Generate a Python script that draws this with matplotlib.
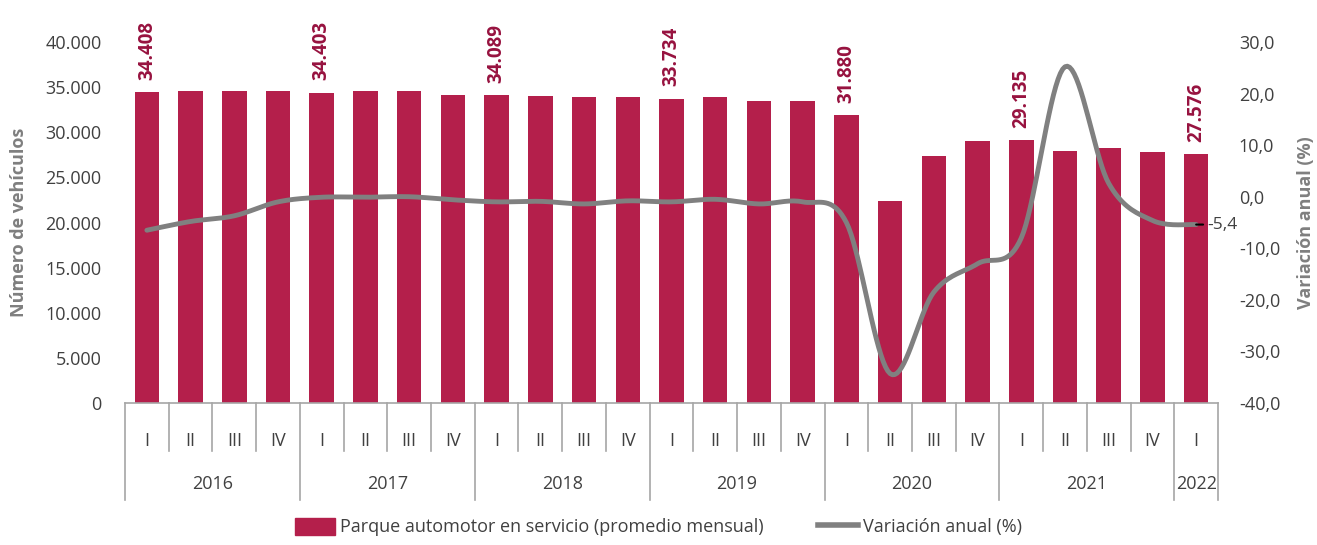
import numpy as np
import matplotlib.pyplot as plt
from matplotlib.patches import Patch
from matplotlib.lines import Line2D
from matplotlib.ticker import FuncFormatter

plt.rcParams['font.family'] = ['Open Sans', 'DejaVu Sans']

# Data
years = ["2016", "2017", "2018", "2019", "2020", "2021", "2022"]
quarters = ["I", "II", "III", "IV"] * 6 + ["I"]
parque = [34408, 34560, 34560, 34560, 34403, 34520, 34520, 34150,
          34089, 34020, 33900, 33900, 33734, 33900, 33430, 33430,
          31880, 22350, 27370, 29070, 29135, 27960, 28200, 27850, 27576]
variacion = [-6.5, -4.8, -3.7, -1.0, -0.1, -0.1, 0.0, -0.6,
             -1.0, -0.9, -1.4, -0.8, -1.0, -0.5, -1.4, -1.0,
             -5.0, -34.3, -18.5, -13.0, -8.0, 25.2, 2.6, -4.6, -5.4]

bar_color = "#B41F4B"
label_color = "#97123F"
line_color = "#808080"
text_color = "#404040"


def smooth(x, y, n=20):
    # Excel-like smoothed line (Catmull-Rom through the points)
    x = np.asarray(x, float)
    y = np.asarray(y, float)
    px = np.concatenate([[x[0]], x, [x[-1]]])
    py = np.concatenate([[y[0]], y, [y[-1]]])
    xs, ys = [], []
    t = np.linspace(0, 1, n)
    for i in range(1, len(px) - 2):
        p0 = np.array([px[i], py[i]])
        p3 = np.array([px[i + 1], py[i + 1]])
        c1 = p0 + (np.array([px[i + 1], py[i + 1]]) - np.array([px[i - 1], py[i - 1]])) / 6
        c2 = p3 - (np.array([px[i + 2], py[i + 2]]) - np.array([px[i], py[i]])) / 6
        pts = ((1 - t) ** 3)[:, None] * p0 + (3 * (1 - t) ** 2 * t)[:, None] * c1 \
            + (3 * (1 - t) * t ** 2)[:, None] * c2 + (t ** 3)[:, None] * p3
        xs.extend(pts[:, 0])
        ys.extend(pts[:, 1])
    return np.array(xs), np.array(ys)


fig = plt.figure(figsize=(13.17, 5.45), dpi=100)
ax = fig.add_axes([125 / 1317, 1 - 403 / 545, (1218 - 125) / 1317, 361 / 545])
ax2 = ax.twinx()

x = np.arange(len(parque))

# ================= BARS =================
ax.bar(x, parque, width=0.56, color=bar_color, zorder=2)
ax.set_ylim(0, 40000)
ax.set_xlim(-0.5, len(parque) - 0.5)
ax.set_yticks(range(0, 40001, 5000))
ax.yaxis.set_major_formatter(FuncFormatter(lambda v, p: f"{int(v):,}".replace(",", ".")))

for i in range(0, len(parque), 4):
    ax.annotate(f"{parque[i]:,}".replace(",", "."), (x[i], parque[i]),
                xytext=(0, 9), textcoords="offset points", rotation=90,
                ha="center", va="bottom", fontsize=13.5, fontweight="bold",
                color=label_color)

# ================= LINE =================
sx, sy = smooth(x, variacion)
ax2.plot(sx, sy, color=line_color, lw=3.5, solid_capstyle="round", zorder=3)
ax2.set_ylim(-40, 30)
ax2.set_yticks(range(-40, 31, 10))
ax2.yaxis.set_major_formatter(FuncFormatter(lambda v, p: f"{v:.1f}".replace(".", ",")))
ax2.annotate(f"{variacion[-1]:.1f}".replace(".", ","), (x[-1], variacion[-1]),
             xytext=(8, 0), textcoords="offset points", ha="left", va="center",
             fontsize=12.5, color=text_color,
             arrowprops=dict(arrowstyle="-", color="black", lw=1.5,
                             shrinkA=1, shrinkB=0))

# ================= AXES STYLE =================
for a in (ax, ax2):
    for s in a.spines.values():
        s.set_visible(False)
ax.spines["bottom"].set_visible(True)
ax.spines["bottom"].set_color("#A6A6A6")
ax.spines["bottom"].set_linewidth(1.2)

ax.tick_params(axis="y", length=0, pad=17, labelsize=13, labelcolor=text_color)
ax2.tick_params(axis="y", length=0, pad=15, labelsize=13, labelcolor=text_color)
ax.set_ylabel("Número de vehículos", fontsize=13, fontweight="bold",
              color="#7F7F7F", labelpad=12)
ax2.set_ylabel("Variación anual (%)", fontsize=13, fontweight="bold",
               color="#7F7F7F", labelpad=12, rotation=90)

# category axis (quarters + years)
ax.set_xticks(x)
ax.set_xticklabels(quarters)
ax.tick_params(axis="x", length=0, pad=21, labelsize=13, labelcolor=text_color)

trans = ax.get_xaxis_transform()
q_depth = -48 / 361
y_depth = -97 / 361
year_start = [0, 4, 8, 12, 16, 20, 24]
year_end = [4, 8, 12, 16, 20, 24, 25]
for b in np.arange(-0.5, len(parque)):
    deep = (b + 0.5) in year_start or b + 0.5 == len(parque)
    ax.plot([b, b], [0, y_depth if deep else q_depth], transform=trans,
            color="#A6A6A6", lw=1.2, clip_on=False)
for yr, s, e in zip(years, year_start, year_end):
    ax.text((s + e - 1) / 2, -81 / 361, yr, transform=trans, ha="center",
            va="center", fontsize=13, color=text_color)

# ================= LEGEND =================
handles = [Patch(color=bar_color), Line2D([0], [0], color=line_color, lw=4)]
fig.legend(handles, ["Parque automotor en servicio (promedio mensual)", "Variación anual (%)"],
           loc="center", bbox_to_anchor=(0.5, 0.033), ncol=2, frameon=False,
           fontsize=13, handlelength=2.2, handleheight=1.1, handletextpad=0.3,
           columnspacing=3.0, labelcolor=text_color)

fig.savefig("out.png", dpi=100)
